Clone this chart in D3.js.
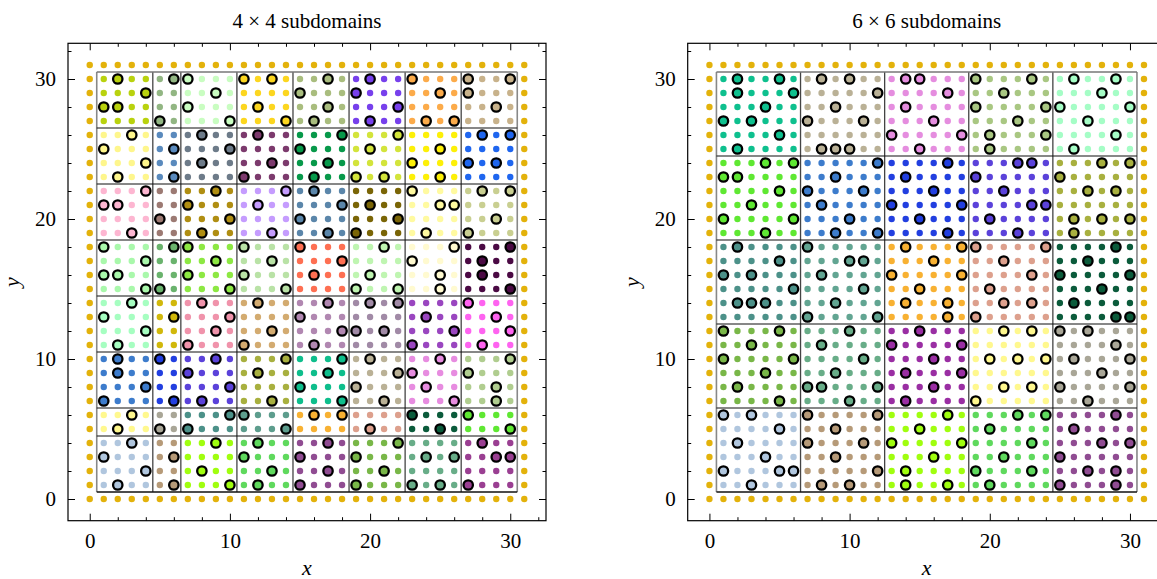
<!DOCTYPE html>
<html lang="en">
<head>
<meta charset="UTF-8">
<title>Subdomains</title>
<style>
  body { margin: 0; background: #fff; }
  svg { display: block; font-family: "Liberation Serif", "DejaVu Serif", serif; }
  .frame { fill: none; stroke: #000; stroke-width: 1.2; }
  .tick line { stroke: #000; stroke-width: 1; }
  .tick text { font-size: 21px; fill: #000; font-family: "Liberation Serif", serif; }
  .title { font-size: 21px; text-anchor: middle; }
  .label { font-size: 22px; font-style: italic; text-anchor: middle; }
</style>
</head>
<body>
<script src="https://cdn.jsdelivr.net/npm/d3@7"></script>
<script>

// grid is 0..31 in both directions, boundary nodes drawn in gold
var nMax = 31;
var edgeColor = "#e3b20b";
var majorTicks = [0, 10, 20, 30];
var minorTicks = [2, 4, 6, 8, 12, 14, 16, 18, 22, 24, 26, 28, 32];

// left panel: subdomain edges and colours (rows listed top to bottom)
var leftXEdges = [0.5, 4.5, 6.5, 10.5, 14.5, 18.5, 22.5, 26.5, 30.5];
var leftYEdges = [30.5, 26.5, 22.5, 18.5, 14.5, 10.5, 6.5, 4.5, 0.5];
var leftColors = [
  ["#b9d20e", "#92b683", "#c9fdc1", "#fcd61f", "#a9bd7e", "#7740ec", "#fcab4a", "#c8b28b"],
  ["#fef68c", "#5a8abd", "#6d7b89", "#7c3a6d", "#07994a", "#d3e43b", "#fdf007", "#1f66ef"],
  ["#fdb6d1", "#9c7a73", "#b08e12", "#c59cfe", "#5b86aa", "#7a6506", "#fffaa0", "#c9cf91"],
  ["#a9f8ab", "#6ab36d", "#8de843", "#b9e2a6", "#fe6f52", "#bff5b1", "#fffad0", "#4b0a44"],
  ["#a6fec1", "#d1b80b", "#f093ab", "#d3ab70", "#b187b1", "#a18aa6", "#9a46c0", "#fe63f0"],
  ["#3d7ccc", "#223fe0", "#5b42da", "#a8b03f", "#0ebe8c", "#bab196", "#e78ce0", "#b0cd8f"],
  ["#fff88e", "#a9a697", "#4c9189", "#5d9d8d", "#f8b132", "#dda08d", "#0b5b3b", "#5fe832"],
  ["#b0c6de", "#b69a78", "#a0fe0f", "#5fd95d", "#904c92", "#79b748", "#68ad88", "#9a3f92"]
];
// marked nodes, one list per row y = 30 down to y = 1
var leftMarked = [
  [2, 6, 7, 11, 13, 17, 20, 23, 27, 30],
  [4, 9, 15, 19, 25, 27],
  [1, 2, 7, 12, 17, 22, 29],
  [5, 10, 14, 16, 20, 24, 26],
  [3, 8, 12, 18, 22, 28, 30],
  [1, 6, 10, 15, 20, 25],
  [4, 8, 13, 17, 23, 27, 29],
  [2, 6, 11, 16, 19, 21, 25],
  [4, 9, 14, 16, 23, 28, 30],
  [1, 2, 7, 12, 18, 20, 25, 26],
  [5, 10, 15, 22, 29],
  [3, 8, 13, 17, 19, 24, 27],
  [1, 6, 7, 11, 15, 21, 26, 30],
  [4, 9, 13, 18, 23, 28],
  [1, 2, 7, 11, 16, 20, 25, 28],
  [4, 5, 10, 14, 19, 22, 25, 30],
  [3, 8, 12, 17, 20, 22, 27],
  [1, 6, 10, 15, 24, 29],
  [4, 9, 13, 18, 19, 21, 26, 30],
  [2, 7, 11, 16, 23, 28],
  [2, 5, 9, 14, 18, 20, 25, 30],
  [2, 7, 12, 17, 22, 23, 27],
  [4, 10, 15, 19, 24, 29],
  [1, 6, 8, 13, 18, 21, 26, 29],
  [3, 10, 11, 16, 18, 23, 27],
  [2, 5, 7, 14, 20, 25, 30],
  [3, 9, 12, 17, 22, 28],
  [1, 6, 11, 15, 19, 24, 26, 29, 30],
  [4, 8, 13, 17, 21],
  [2, 6, 10, 12, 15, 19, 23, 25, 27]
];

// right panel
var rightXEdges = [0.5, 6.5, 12.5, 18.5, 24.5, 30.5];
var rightYEdges = [30.5, 24.5, 18.5, 12.5, 6.5, 0.5];
var rightColors = [
  ["#0ec08e", "#bab196", "#e58ddf", "#a9c782", "#a5fdc6"],
  ["#5fe832", "#3d7ccc", "#223fe0", "#5b42da", "#a8b03f"],
  ["#4c9189", "#62a592", "#f8b132", "#dda08d", "#0b5b3b"],
  ["#79b748", "#68ad88", "#9a2ea3", "#fff88e", "#a9a697"],
  ["#b0c6de", "#b69a78", "#a0fe0f", "#5fd95d", "#904c92"]
];
var rightMarked = [
  [2, 5, 8, 10, 14, 15, 19, 23, 26, 29],
  [2, 6, 12, 17, 21, 28],
  [4, 9, 14, 19, 24, 25, 30],
  [1, 3, 7, 11, 16, 22, 27],
  [5, 13, 18, 20, 24, 29],
  [2, 8, 9, 10, 15, 20, 26],
  [4, 6, 12, 17, 22, 23, 28, 30],
  [1, 2, 9, 14, 19, 25],
  [5, 7, 11, 16, 21, 27, 29],
  [3, 8, 13, 18, 23, 24],
  [1, 6, 10, 15, 20, 26, 28, 30],
  [4, 9, 12, 17, 22, 26],
  [2, 7, 14, 18, 19, 24, 29],
  [5, 10, 11, 16, 21, 27],
  [1, 3, 8, 13, 18, 23, 25, 30],
  [6, 11, 15, 20, 28],
  [2, 3, 4, 9, 14, 17, 21, 23, 26],
  [7, 12, 17, 19, 29, 30],
  [1, 5, 10, 15, 21, 23, 25, 27],
  [3, 8, 13, 18, 29],
  [1, 6, 11, 16, 20, 22, 24, 26, 30],
  [4, 9, 14, 18, 28],
  [2, 7, 8, 12, 16, 21, 23, 25, 30],
  [5, 10, 14, 19, 27],
  [1, 3, 7, 12, 17, 22, 24, 29],
  [5, 9, 15, 20, 26],
  [2, 7, 11, 13, 18, 23, 28, 30],
  [4, 9, 16, 21, 25],
  [1, 5, 6, 12, 14, 19, 23, 27, 29],
  [3, 8, 10, 14, 17, 20, 25, 29]
];

var W = 1157, H = 579;
var svg = d3.select("body").append("svg")
    .attr("width", W)
    .attr("height", H);

var panels = [
  {left: 68, title: "4 \u00d7 4 subdomains", xEdges: leftXEdges, yEdges: leftYEdges, colors: leftColors, marked: leftMarked},
  {left: 687.7, title: "6 \u00d7 6 subdomains", xEdges: rightXEdges, yEdges: rightYEdges, colors: rightColors, marked: rightMarked}
];
var size = 478, frameTop = 43.3;

panels.forEach(function(p) {
  var x = d3.scaleLinear().domain([-1.55, 32.55]).range([p.left, p.left + size]);
  var y = d3.scaleLinear().domain([-1.55, 32.55]).range([frameTop + size - 0.6, frameTop]);
  var g = svg.append("g");

  // subdomain boundaries
  var lo = p.xEdges[0], hi = p.xEdges[p.xEdges.length - 1];
  p.xEdges.forEach(function(e, k) {
    var outer = (k === 0 || k === p.xEdges.length - 1);
    g.append("line")
      .attr("x1", x(e)).attr("x2", x(e))
      .attr("y1", y(lo)).attr("y2", y(hi))
      .attr("stroke", outer ? "#888" : "#444")
      .attr("stroke-width", outer ? 1.6 : 1.3);
  });
  p.yEdges.forEach(function(e, k) {
    var outer = (k === 0 || k === p.yEdges.length - 1);
    g.append("line")
      .attr("x1", x(lo)).attr("x2", x(hi))
      .attr("y1", y(e)).attr("y2", y(e))
      .attr("stroke", outer && k === 0 ? "#777" : "#111")
      .attr("stroke-width", outer ? 1.4 : 1.2);
  });

  // nodes
  var nodes = [];
  for (var j = 0; j <= nMax; j++) {
    for (var i = 0; i <= nMax; i++) {
      var boundary = (i === 0 || j === 0 || i === nMax || j === nMax);
      var col = null, big = false;
      if (boundary) {
        col = edgeColor;
      } else {
        var cx = d3.bisectLeft(p.xEdges, i) - 1;
        var ry = p.yEdges.filter(function(e) { return e > j; }).length - 1;
        col = p.colors[ry][cx];
        big = p.marked[30 - j].indexOf(i) >= 0;
      }
      nodes.push({i: i, j: j, c: col, big: big});
    }
  }

  g.selectAll(".dot")
    .data(nodes.filter(function(d) { return !d.big; }))
    .enter().append("circle")
      .attr("class", "dot")
      .attr("cx", function(d) { return x(d.i); })
      .attr("cy", function(d) { return y(d.j); })
      .attr("r", 3.2)
      .attr("fill", function(d) { return d.c; });

  g.selectAll(".mark")
    .data(nodes.filter(function(d) { return d.big; }))
    .enter().append("circle")
      .attr("class", "mark")
      .attr("cx", function(d) { return x(d.i); })
      .attr("cy", function(d) { return y(d.j); })
      .attr("r", 4.7)
      .attr("fill", function(d) { return d.c; })
      .attr("stroke", "#000")
      .attr("stroke-width", 2.3);

  // axes, ticks pointing inward on all four sides
  var bottom = y.range()[0];
  function addAxis(axisFn, scale, transform, values, len, labels) {
    var a = axisFn(scale).tickValues(values).tickSize(-len).tickPadding(12);
    if (!labels) a.tickFormat("");
    var ag = g.append("g").attr("transform", transform).call(a);
    ag.select(".domain").remove();
    return ag;
  }
  addAxis(d3.axisBottom, x, "translate(0," + bottom + ")", majorTicks, 7, true);
  addAxis(d3.axisBottom, x, "translate(0," + bottom + ")", minorTicks.filter(function(v) { return v < 32.5; }), 3.5, false);
  addAxis(d3.axisTop, x, "translate(0," + frameTop + ")", majorTicks, 7, false);
  addAxis(d3.axisTop, x, "translate(0," + frameTop + ")", minorTicks, 3.5, false);
  addAxis(d3.axisLeft, y, "translate(" + p.left + ",0)", majorTicks, 7, true);
  addAxis(d3.axisLeft, y, "translate(" + p.left + ",0)", minorTicks, 3.5, false);
  addAxis(d3.axisRight, y, "translate(" + (p.left + size) + ",0)", majorTicks, 7, false);
  addAxis(d3.axisRight, y, "translate(" + (p.left + size) + ",0)", minorTicks, 3.5, false);

  g.append("rect")
    .attr("class", "frame")
    .attr("x", p.left).attr("y", frameTop)
    .attr("width", size).attr("height", bottom - frameTop);

  g.append("text")
    .attr("class", "title")
    .attr("x", p.left + size / 2).attr("y", 28)
    .text(p.title);

  g.append("text")
    .attr("class", "label")
    .attr("x", p.left + size / 2).attr("y", 575)
    .text("x");

  g.append("text")
    .attr("class", "label")
    .attr("transform", "translate(" + (p.left - 49) + "," + ((frameTop + bottom) / 2) + ") rotate(-90)")
    .text("y");
});

</script>
</body>
</html>
